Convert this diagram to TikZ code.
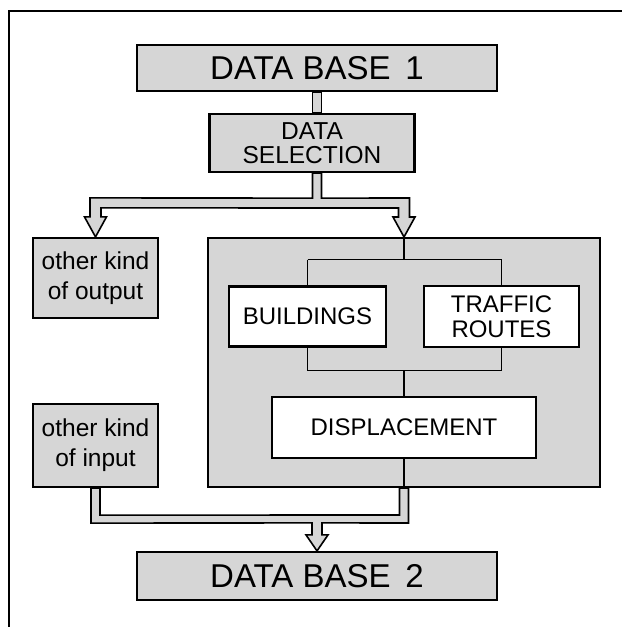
\documentclass[tikz,border=0pt]{standalone}
\usepackage{fontspec}
\setmainfont{Liberation Sans}
\usetikzlibrary{calc}
\definecolor{stip}{RGB}{214,214,214}
\begin{document}
\begin{tikzpicture}[x=1pt,y=-1pt,
  box/.style={draw, line width=2.2pt, fill=stip, inner sep=0pt, align=center,
              font=\fontsize{24pt}{25.5pt}\selectfont},
  wbox/.style={box, fill=white},
  lbox/.style={box, font=\fontsize{24.5pt}{30pt}\selectfont},
  dbbox/.style={box, font=\fontsize{33pt}{36pt}\selectfont},
  conn/.style={draw, line width=1.6pt, fill=stip, line join=miter},
  tree/.style={line width=1.4pt},
  frame/.style={line width=2.6pt}]
\useasboundingbox (0,0) rectangle (622,627);
% outer frame (top and left edges)
\coordinate (fa) at (9,627);
\coordinate (fb) at (9,11);
\coordinate (fc) at (622,11);
\draw[frame] (fa) -- (fb) -- (fc);

% boxes
\node[dbbox, minimum width=360pt, minimum height=46pt] (db1) at (317,68) {DATA BASE\hspace{0.45em}1};
\node[box, minimum width=205pt, minimum height=58pt, font=\fontsize{24.5pt}{24pt}\selectfont] (ds) at (312,143) {DATA\\SELECTION};
\node[lbox, minimum width=125pt, minimum height=80pt] (out) at (95.5,278) {other kind\\of output};
\node[box, line width=2pt, minimum width=392pt, minimum height=249pt] (cont) at (404,362.5) {};
\node[lbox, minimum width=125pt, minimum height=83pt] (inp) at (95.5,445.5) {other kind\\of input};
\node[dbbox, minimum width=360pt, minimum height=48pt] (db2) at (317,576) {DATA BASE\hspace{0.45em}2};

% tree inside the container
\coordinate (bldc) at (307.5,316.5);
\coordinate (trfc) at (501.5,316.5);
\draw[tree] ($(bldc)+(0,-57)$) coordinate (tl) -- ($(trfc)+(0,-57)$) coordinate (tr);
\draw[tree] (cont.north) -- (cont.north |- tl);
\draw[tree] ($(bldc)+(0,54)$) coordinate (bl) -- ($(trfc)+(0,54)$) coordinate (br);
\draw[tree] (tl) -- (bldc);
\draw[tree] (tr) -- (trfc);
\draw[tree] (bl) -- (bldc);
\draw[tree] (br) -- (trfc);
\node[wbox, minimum width=157pt, minimum height=60pt] (bld) at (bldc) {BUILDINGS};
\node[wbox, minimum width=155pt, minimum height=61pt] (trf) at (trfc) {TRAFFIC\\ROUTES};
\node[wbox, minimum width=264pt, minimum height=61pt] (dsp) at (404,427.5) {DISPLACEMENT};
\draw[tree] (dsp.north) -- (dsp.north |- bl);
\draw[tree] (dsp.south) -- (cont.south);

% hollow connector DB1 -> DATA SELECTION
\draw[conn] ($(db1.south)+(-4.5,0)$) rectangle ($(db1.south |- ds.north)+(4.5,0)$);

% hollow split connector DATA SELECTION -> output / container
\coordinate (s0) at (db1.south |- ds.south);
\coordinate (L) at (out.north);
\coordinate (R) at (cont.north);
\draw[conn]
  ($(s0)+(-4.5,0)$) -- ($(s0)+(-4.5,25)$) -- ($(L)+(-5.5,-39)$)
  -- ($(L)+(-5.5,-20)$) -- ($(L)+(-11,-20)$) -- (L) -- ($(L)+(11,-20)$)
  -- ($(L)+(5.5,-20)$) -- ($(L)+(5.5,-29)$) -- ($(R)+(-5.5,-29)$)
  -- ($(R)+(-5.5,-20)$) -- ($(R)+(-11,-20)$) -- (R) -- ($(R)+(11,-20)$)
  -- ($(R)+(5.5,-20)$) -- ($(R)+(5.5,-39)$) -- ($(s0)+(4.5,25)$)
  -- ($(s0)+(4.5,0)$) -- cycle;

% hollow join connector input / container -> DB2
\coordinate (I) at (inp.south);
\coordinate (C) at (cont.south);
\coordinate (M) at (db2.north);
\draw[conn]
  ($(I)+(-4.5,0)$) -- ($(I)+(-4.5,35)$) -- ($(M)+(-5,-28)$)
  -- ($(M)+(-5,-16)$) -- ($(M)+(-11,-16)$) -- (M) -- ($(M)+(11,-16)$)
  -- ($(M)+(5,-16)$) -- ($(M)+(5,-28)$) -- ($(C)+(4.5,35)$)
  -- ($(C)+(4.5,0)$) -- ($(C)+(-4.5,0)$) -- ($(C)+(-4.5,27)$)
  -- ($(I)+(4.5,27)$) -- ($(I)+(4.5,0)$) -- cycle;
\end{tikzpicture}
\end{document}
